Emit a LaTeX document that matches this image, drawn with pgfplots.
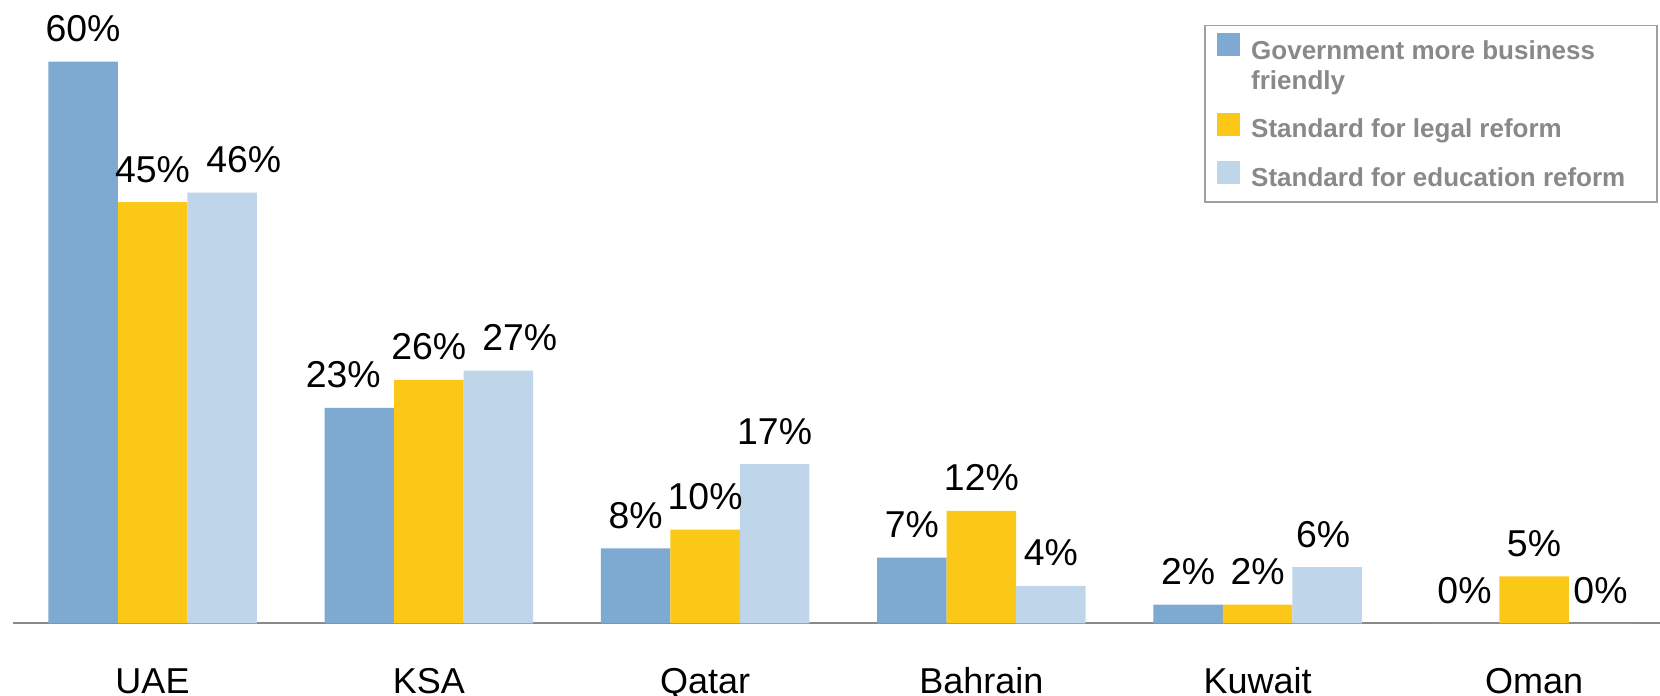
\documentclass[border=0pt]{standalone}
\usepackage{pgfplots}
\pgfplotsset{compat=1.18}
\usepackage{fontspec}
\setmainfont{Liberation Sans}
\definecolor{cblue}{RGB}{126,169,208}
\definecolor{cyellow}{RGB}{252,200,24}
\definecolor{clight}{RGB}{191,213,233}
\definecolor{legtext}{RGB}{137,137,137}
\definecolor{legborder}{RGB}{160,160,160}
\definecolor{axisgray}{RGB}{137,137,137}
\pgfplotsset{
  sqA/.style={draw=none, legend image code/.code={\fill[##1] (0pt,1.8pt) rectangle (11.5pt,13.1pt);}},
  sqB/.style={draw=none, legend image code/.code={\fill[##1] (0pt,1pt) rectangle (11.5pt,12.5pt);}},
  lblshift/.style={visualization depends on={\thisrow{dx}\as\dx},
    every node near coord/.append style={xshift=\dx pt}},
}
\begin{document}
\begin{tikzpicture}
\begin{axis}[
  at={(0,0)}, anchor=south west,
  scale only axis, width=823.65pt, height=308.88pt,
  xmin=-0.506, xmax=5.456, ymin=0, ymax=66,
  ybar=0pt, bar width=34.75pt,
  axis x line*=bottom, axis y line=none,
  x axis line style={draw=axisgray, line width=1pt},
  xtick={0,1,2,3,4,5}, xticklabels={UAE,KSA,Qatar,Bahrain,Kuwait,Oman},
  major tick length=0pt, ytick=\empty,
  xticklabel style={font=\fontsize{18}{21.6}\selectfont, anchor=base, inner sep=0pt, yshift=-35.2pt},
  nodes near coords={\pgfmathprintnumber{\pgfplotspointmeta}\%},
  every node near coord/.append style={font=\fontsize{18.7}{22}\selectfont, text=black, anchor=base, inner sep=0pt, yshift=10pt},
  /pgf/number format/assume math mode=true,
  clip=false,
  legend style={at={(1,1)}, anchor=north east, xshift=-1pt, yshift=-9.5pt,
    draw=legborder, line width=0.8pt, fill=white,
    inner xsep=6pt, inner ysep=3.8pt, row sep=7.25pt, column sep=5.5pt,
    nodes={inner sep=0pt, font=\bfseries\fontsize{13}{15}\selectfont, text=legtext,
      text height=13pt, text depth=4pt},
    cells={anchor=base west}},
]
\addplot[fill=cblue, sqA, lblshift] table {
x y dx
0 60 0
1 23 -8
2 8 0
3 7 0
4 2 0
5 0 0
};
\addlegendentry[text depth=19pt]{\parbox[t]{197pt}{\raggedright Government more business\newline friendly}}
\addplot[fill=cyellow, sqB, lblshift] table {
x y dx
0 45 0
1 26 0
2 10 0
3 12 0
4 2 0
5 5 0
};
\addlegendentry{Standard for legal reform}
\addplot[fill=clight, sqB, lblshift] table {
x y dx
0 46 10.9
1 27 10.75
2 17 0
3 4 0
4 6 -2
5 0 -1.5
};
\addlegendentry{Standard for education reform}
\end{axis}
\pgfresetboundingbox
\path[use as bounding box] (-6.35pt,-36.35pt) rectangle (823.65pt,311.63pt);
\end{tikzpicture}
\end{document}
